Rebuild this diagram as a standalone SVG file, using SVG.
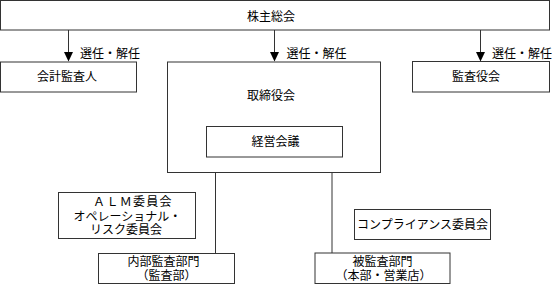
<svg xmlns="http://www.w3.org/2000/svg" width="552" height="285" viewBox="0 0 552 285">
<style>
  .box { fill: #ffffff; stroke: #333333; stroke-width: 1; }
  .t { font-family: "Liberation Sans", "Noto Sans CJK JP", sans-serif; font-size: 12px; fill: #000000; text-anchor: middle; }
  .lbl { font-family: "Liberation Sans", "Noto Sans CJK JP", sans-serif; font-size: 12px; fill: #000000; }
  .conn { stroke: #333333; stroke-width: 1; fill: none; }
  .head { fill: #000000; stroke: none; }
</style>
<rect width="552" height="285" fill="#ffffff"/>
<g id="connectors">
  <line class="conn" x1="68.5" y1="30" x2="68.5" y2="53"/>
  <polygon class="head" points="64,52 73,52 68.5,61.5"/>
  <line class="conn" x1="274.5" y1="30" x2="274.5" y2="53"/>
  <polygon class="head" points="270,52 279,52 274.5,61.5"/>
  <line class="conn" x1="480.5" y1="30" x2="480.5" y2="53"/>
  <polygon class="head" points="476,52 485,52 480.5,61.5"/>
  <line class="conn" x1="215.5" y1="172.5" x2="215.5" y2="253.5"/>
  <line class="conn" x1="332" y1="172.5" x2="332" y2="253"/>
  <text class="lbl" x="80" y="58">選任・解任</text>
  <text class="lbl" x="286.5" y="58">選任・解任</text>
  <text class="lbl" x="492" y="58">選任・解任</text>
</g>
<g id="shareholders">
  <rect class="box" x="0.5" y="0.5" width="549" height="29.5"/>
  <text class="t" x="271" y="21">株主総会</text>
</g>
<g id="auditor">
  <rect class="box" x="0.5" y="62" width="136" height="30"/>
  <text class="t" x="67" y="81">会計監査人</text>
</g>
<g id="board">
  <rect class="box" x="167.5" y="62" width="213" height="110.5"/>
  <text class="t" x="271" y="100">取締役会</text>
</g>
<g id="audit-board">
  <rect class="box" x="412.5" y="61.5" width="137" height="30.5"/>
  <text class="t" x="476" y="81">監査役会</text>
</g>
<g id="management">
  <rect class="box" x="206.5" y="126.5" width="136" height="30.5"/>
  <text class="t" x="275.5" y="146">経営会議</text>
</g>
<g id="alm">
  <rect class="box" x="58.5" y="192.5" width="137" height="46"/>
  <text class="t"><tspan x="133" y="206" letter-spacing="1.3">ＡＬＭ委員会</tspan><tspan x="127.5" y="221">オペレーショナル・</tspan><tspan x="126" y="234">リスク委員会</tspan></text>
</g>
<g id="compliance">
  <rect class="box" x="354.5" y="209.5" width="136" height="30"/>
  <text class="t" x="422.5" y="229">コンプライアンス委員会</text>
</g>
<g id="internal-audit">
  <rect class="box" x="98.5" y="253.5" width="136" height="30"/>
  <text class="t"><tspan x="163.5" y="266">内部監査部門</tspan><tspan x="166.5" y="280">（監査部）</tspan></text>
</g>
<g id="audited">
  <rect class="box" x="315" y="253" width="135" height="30.5"/>
  <text class="t"><tspan x="382.5" y="265.5">被監査部門</tspan><tspan x="383.5" y="280">（本部・営業店）</tspan></text>
</g>
</svg>
